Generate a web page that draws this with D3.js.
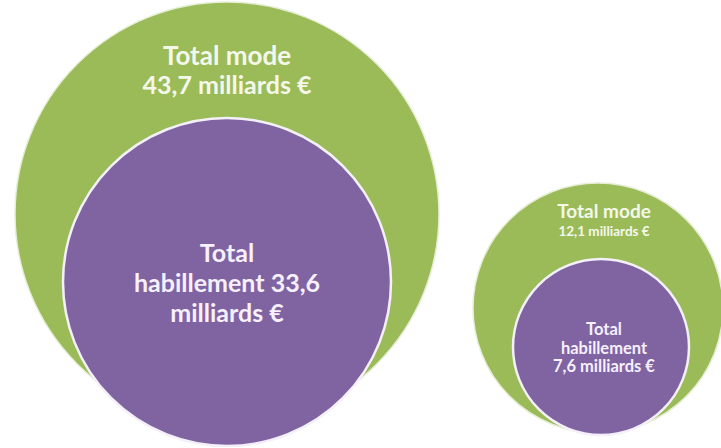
<!DOCTYPE html>
<html>
<head>
<meta charset="utf-8">
<script src="https://cdn.jsdelivr.net/npm/d3@7/dist/d3.min.js"></script>
<style>
  html, body { margin: 0; padding: 0; background: #ffffff; }
  svg { display: block; }
</style>
</head>
<body>
<svg id="chart" width="721" height="448"></svg>
<script>
// ---- Data ----
const categories = ["Total mode", "Total habillement"];
const groupA_values = [43.7, 33.6];   // milliards €
const groupB_values = [12.1, 7.6];    // milliards €
const groupA_labels = [["Total mode", "43,7 milliards €"], ["Total", "habillement 33,6", "milliards €"]];
const groupB_labels = [["Total mode", "12,1 milliards €"], ["Total", "habillement", "7,6 milliards €"]];

// ---- Layout / style ----
const colors = { "Total mode": "#9bbb59", "Total habillement": "#8064a2" };
const layout = [
  { values: groupA_values, labels: groupA_labels,
    centers: [[227, 214], [227, 282]], rRange: [164, 212], textDx: [0, 0],
    text: [ { y: 65, sizes: [26, 25], lh: 29 }, { y: 262, sizes: [25, 25, 25], lh: 30 } ] },
  { values: groupB_values, labels: groupB_labels,
    centers: [[598, 308], [601, 347]], rRange: [88, 125], textDx: [6, 3],
    text: [ { y: 218, sizes: [19, 13.5], lh: 18 }, { y: 335, sizes: [16.5, 16.5, 16.5], lh: 18.5 } ] }
];

const svg = d3.select("#chart");

layout.forEach(g => {
  const r = d3.scaleLinear()
    .domain([d3.min(g.values), d3.max(g.values)])
    .range(g.rRange);
  const grp = svg.append("g");
  g.values.forEach((v, i) => {
    const cat = categories[i];
    grp.append("circle")
      .attr("cx", g.centers[i][0])
      .attr("cy", g.centers[i][1])
      .attr("r", r(v))
      .attr("fill", colors[cat])
      .attr("stroke", i === 0 ? "#e6eed6" : "#f4f0fa")
      .attr("stroke-width", i === 0 ? 1.5 : 2.5);
  });
  g.values.forEach((v, i) => {
    const t = g.text[i];
    const lines = g.labels[i];
    const txt = grp.append("text")
      .attr("text-anchor", "middle")
      .attr("font-family", "Lato, 'Open Sans', sans-serif")
      .attr("font-weight", "bold")
      .attr("fill", i === 0 ? "#f4f8ea" : "#f6f0ff");
    lines.forEach((ln, k) => {
      txt.append("tspan")
        .attr("x", g.centers[i][0] + g.textDx[i])
        .attr("y", t.y + k * t.lh)
        .attr("font-size", t.sizes[k])
        .text(ln);
    });
  });
});
</script>
</body>
</html>
